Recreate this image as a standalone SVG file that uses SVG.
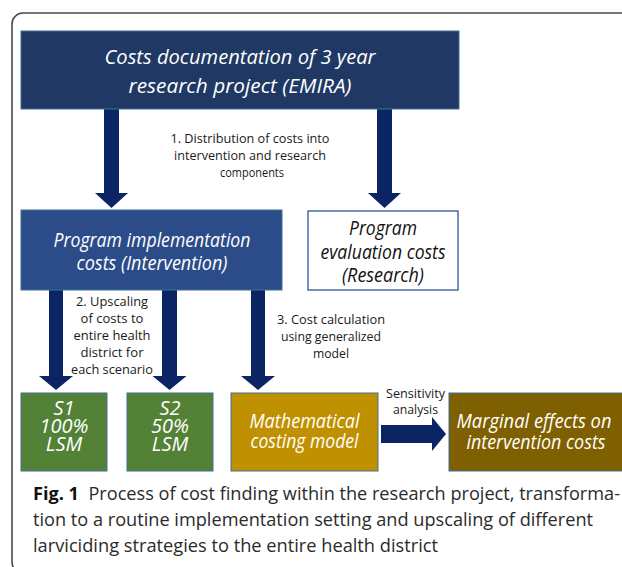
<svg xmlns="http://www.w3.org/2000/svg" width="622" height="567" viewBox="0 0 622 567">
<style>
.box{stroke:#41719C;stroke-width:1}
.t{font-family:"Open Sans","Noto Sans",sans-serif;font-style:italic;font-size:20px;text-anchor:middle;fill:#fff}
.tk{fill:#111}
.lbl{font-family:"Open Sans","Noto Sans",sans-serif;font-size:13px;text-anchor:middle;fill:#1a1a1a}
.arr{fill:#0B2463}
.cap{font-family:"Open Sans","Noto Sans",sans-serif;font-size:18px;fill:#2b2b2b}
</style>
<rect x="12" y="13" width="640" height="560" rx="11" fill="none" stroke="#4a4a4a" stroke-width="1.6"/>

<g id="connectors">
<polygon class="arr" points="104,109 119,109 119,193 128,193 111.5,208 95,193 104,193"/>
<polygon class="arr" points="377,109 392,109 392,193 401,193 384.5,208 368,193 377,193"/>
<polygon class="arr" points="49,290 63,290 63,376 73,376 56,390 39,376 49,376"/>
<polygon class="arr" points="162,290 177,290 177,376 186.5,376 169.5,390 152.5,376 162,376"/>
<polygon class="arr" points="251,290 265,290 265,376 275,376 258,390 241,376 251,376"/>
<polygon class="arr" points="381,425 432,425 432,417 446,434 432,451 432,443 381,443"/>
<text class="lbl" x="250" y="143" textLength="159" lengthAdjust="spacingAndGlyphs">1. Distribution of costs into</text>
<text class="lbl" x="250" y="160" textLength="152" lengthAdjust="spacingAndGlyphs">intervention and research</text>
<text class="lbl" x="252" y="177" textLength="64" lengthAdjust="spacingAndGlyphs">components</text>
<text class="lbl" x="112" y="306" textLength="72" lengthAdjust="spacingAndGlyphs">2. Upscaling</text>
<text class="lbl" x="112" y="323" textLength="63" lengthAdjust="spacingAndGlyphs">of costs to</text>
<text class="lbl" x="112" y="340" textLength="77" lengthAdjust="spacingAndGlyphs">entire health</text>
<text class="lbl" x="112" y="357" textLength="63" lengthAdjust="spacingAndGlyphs">district for</text>
<text class="lbl" x="112" y="374" textLength="82" lengthAdjust="spacingAndGlyphs">each scenario</text>
<text class="lbl" x="331" y="324" textLength="108" lengthAdjust="spacingAndGlyphs">3. Cost calculation</text>
<text class="lbl" x="331" y="341" textLength="100" lengthAdjust="spacingAndGlyphs">using generalized</text>
<text class="lbl" x="331" y="358" textLength="36" lengthAdjust="spacingAndGlyphs">model</text>
<text class="lbl" x="415.5" y="398" textLength="59" lengthAdjust="spacingAndGlyphs">Sensitivity</text>
<text class="lbl" x="415.5" y="414" textLength="45" lengthAdjust="spacingAndGlyphs">analysis</text>
</g>

<g id="costs-documentation">
<rect class="box" x="21" y="31" width="438" height="78" fill="#1F3864"/>
<text class="t" x="240" y="64" font-size="22" textLength="271" lengthAdjust="spacingAndGlyphs">Costs documentation of 3 year</text>
<text class="t" x="240" y="93" font-size="22" textLength="223" lengthAdjust="spacingAndGlyphs">research project (EMIRA)</text>
</g>

<g id="program-implementation">
<rect class="box" x="21" y="210" width="261" height="80" fill="#2B4C88"/>
<text class="t" x="152" y="247" textLength="197" lengthAdjust="spacingAndGlyphs">Program implementation</text>
<text class="t" x="152" y="270" textLength="151" lengthAdjust="spacingAndGlyphs">costs (Intervention)</text>
</g>

<g id="program-evaluation">
<rect x="308" y="211" width="150" height="79" fill="#fff" stroke="#2F5597" stroke-width="1.3"/>
<text class="t tk" x="383" y="235" textLength="68" lengthAdjust="spacingAndGlyphs">Program</text>
<text class="t tk" x="383" y="259" textLength="125" lengthAdjust="spacingAndGlyphs">evaluation costs</text>
<text class="t tk" x="383" y="282" textLength="82" lengthAdjust="spacingAndGlyphs">(Research)</text>
</g>

<g id="s1">
<rect class="box" x="21" y="393" width="86" height="78" fill="#538135"/>
<text class="t" x="64" y="415" font-size="17">S1</text>
<text class="t" x="64" y="433" font-size="17">100%</text>
<text class="t" x="64" y="451" font-size="17">LSM</text>
</g>

<g id="s2">
<rect class="box" x="127" y="393" width="86" height="78" fill="#538135"/>
<text class="t" x="170" y="415" font-size="17">S2</text>
<text class="t" x="170" y="433" font-size="17">50%</text>
<text class="t" x="170" y="451" font-size="17">LSM</text>
</g>

<g id="mathematical-model">
<rect class="box" x="231" y="393" width="147" height="78" fill="#BF9000"/>
<text class="t" x="304.5" y="428" textLength="110" lengthAdjust="spacingAndGlyphs">Mathematical</text>
<text class="t" x="304.5" y="448" textLength="108" lengthAdjust="spacingAndGlyphs">costing model</text>
</g>

<g id="marginal-effects">
<rect class="box" x="449" y="393" width="200" height="78" fill="#7F6000"/>
<text class="t" x="534" y="428" textLength="155" lengthAdjust="spacingAndGlyphs">Marginal effects on</text>
<text class="t" x="536" y="449" textLength="139" lengthAdjust="spacingAndGlyphs">intervention costs</text>
</g>

<g id="caption">
<text class="cap" x="33" y="500" textLength="587" lengthAdjust="spacingAndGlyphs"><tspan font-weight="bold" fill="#111">Fig. 1</tspan>&#160; Process of cost finding within the research project, transforma-</text>
<text class="cap" x="33" y="526" textLength="560" lengthAdjust="spacingAndGlyphs">tion to a routine implementation setting and upscaling of different</text>
<text class="cap" x="33" y="552" textLength="405" lengthAdjust="spacingAndGlyphs">larviciding strategies to the entire health district</text>
</g>
</svg>
